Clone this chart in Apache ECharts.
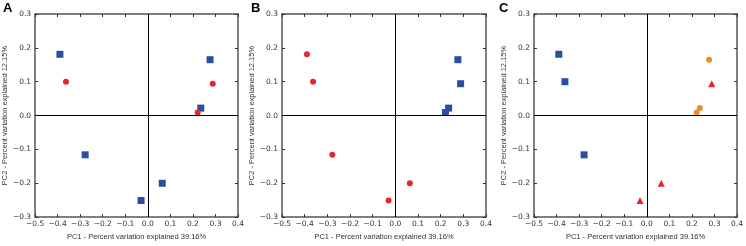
<!DOCTYPE html>
<html>
<head>
<meta charset="utf-8">
<script src="https://cdn.jsdelivr.net/npm/echarts@6/dist/echarts.min.js"></script>
<style>
  html, body { margin: 0; padding: 0; background: #fff; }
  #chart { width: 746px; height: 246px; }
</style>
</head>
<body>
<div id="chart"></div>
<script>
// PCA coordinates of the 9 samples (same in every panel)
const pc1 = [-0.390, -0.363, -0.278, -0.030, 0.064, 0.221, 0.235, 0.276, 0.288]
const pc2 = [0.181, 0.100, -0.116, -0.251, -0.200, 0.009, 0.022, 0.165, 0.094]

// group of each sample in each panel
const panelA = ['sq', 'ci', 'sq', 'sq', 'sq', 'ci', 'sq', 'sq', 'ci']
const panelB = ['ci', 'ci', 'ci', 'ci', 'ci', 'sq', 'sq', 'sq', 'sq']
const panelC = ['sq', 'sq', 'sq', 'tri', 'tri', 'or', 'or', 'or', 'tri']
const panelNames = ['A', 'B', 'C']
const panelGroups = [panelA, panelB, panelC]

const xTitle = 'PC1 - Percent variation explained 39.16%'
const yTitle = 'PC2 - Percent variation explained 12.15%'

const styles = {
  sq: { symbol: 'rect', size: 7, color: '#2b4fa0' },
  ci: { symbol: 'circle', size: 6, color: '#e8262a' },
  tri: { symbol: 'triangle', size: 7, color: '#e8262a' },
  or: { symbol: 'circle', size: 6, color: '#f0892c' }
}

const lefts = [34, 282, 534]
const letterLefts = [3, 251, 499]
const font = 'DejaVu Sans'
const frame = { lineStyle: { color: '#555', width: 1.5 } }
const fmt = v => (v < 0 ? '\u2212' : '') + Math.abs(v).toFixed(1)

const grid = []
const xAxis = []
const yAxis = []
const series = []
const title = []

panelGroups.forEach((groups, p) => {
  grid.push({ left: lefts[p], top: 14, width: 204, height: 212 })
  title.push({
    text: panelNames[p], left: letterLefts[p], top: 2, padding: 0,
    textStyle: { fontFamily: 'Liberation Sans', fontWeight: 'bold', fontSize: 13, color: '#000' }
  })
  const xBase = { type: 'value', gridIndex: p, min: -0.5, max: 0.4, interval: 0.1,
    splitLine: { show: false }, axisLine: { onZero: false, ...frame },
    axisTick: { inside: true, length: 3, lineStyle: { color: '#333' } } }
  const yBase = { type: 'value', gridIndex: p, min: -0.3, max: 0.3, interval: 0.1,
    splitLine: { show: false }, axisLine: { onZero: false, ...frame },
    axisTick: { inside: true, length: 3, lineStyle: { color: '#333' } } }
  xAxis.push({ ...xBase, position: 'bottom',
    axisLabel: { formatter: fmt, fontSize: 7.5, color: '#333', fontFamily: font, margin: 3 },
    name: xTitle, nameLocation: 'middle', nameGap: 11,
    nameTextStyle: { fontSize: 7.5, color: '#333', fontFamily: 'Liberation Sans' } })
  xAxis.push({ ...xBase, position: 'top', axisLabel: { show: false } })
  yAxis.push({ ...yBase, position: 'left',
    axisLabel: { formatter: fmt, fontSize: 7.5, color: '#333', fontFamily: font, margin: 4 },
    name: yTitle, nameLocation: 'middle', nameGap: 20,
    nameTextStyle: { fontSize: 7.5, color: '#333', fontFamily: 'Liberation Sans' } })
  yAxis.push({ ...yBase, position: 'right', axisLabel: { show: false } })

  const keys = [...new Set(groups)]
  keys.forEach((k, i) => {
    const st = styles[k]
    const s = {
      type: 'scatter',
      xAxisIndex: p * 2, yAxisIndex: p * 2,
      symbol: st.symbol, symbolSize: st.size,
      itemStyle: { color: st.color, opacity: 1 },
      data: groups.map((g, j) => g === k ? [pc1[j], pc2[j]] : null).filter(d => d)
    }
    if (i === 0) {
      s.markLine = {
        silent: true, symbol: 'none', label: { show: false },
        lineStyle: { color: '#000', width: 1, type: 'solid' },
        data: [{ xAxis: 0 }, { yAxis: 0 }]
      }
      s.z = 1
    }
    series.push(s)
  })
})

const chart = echarts.init(document.getElementById('chart'))
chart.setOption({ animation: false, title, grid, xAxis, yAxis, series })
</script>
</body>
</html>
